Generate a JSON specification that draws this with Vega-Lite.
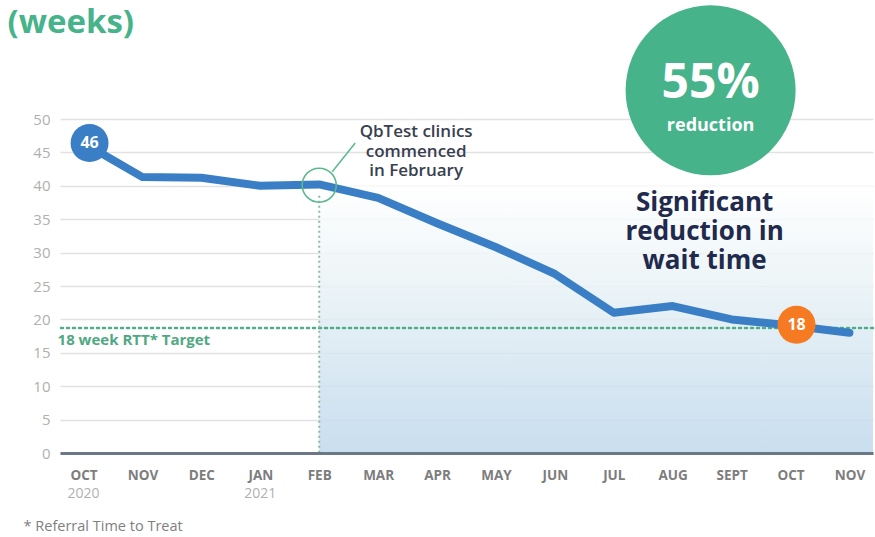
{
  "$schema": "https://vega.github.io/schema/vega-lite/v6.json",
  "width": 813,
  "height": 334,
  "autosize": {"type": "none"},
  "padding": {"left": 60, "top": 119, "right": 2, "bottom": 84},
  "background": "white",
  "config": {
    "view": {"stroke": null},
    "font": "Open Sans",
    "axisX": {"title": null, "domainColor": "#6b7785", "domainWidth": 3, "ticks": false, "grid": false, "labelAngle": 0, "labelColor": "#7d7d7d", "labelFontSize": 13.5, "labelFontWeight": "bold", "labelPadding": 15, "labelExpr": "split(datum.value, ' ')[0]"},
    "axisY": {"title": null, "domain": false, "ticks": false, "grid": true, "gridColor": "#e2e2e2", "gridWidth": 1.5, "labelColor": "#b0b0b0", "labelFontSize": 15, "labelPadding": 10, "values": [0, 5, 10, 15, 20, 25, 30, 35, 40, 45, 50]}
  },
  "datasets": {
    "wait": [
      {"month": "OCT 2020", "weeks": 46.4},
      {"month": "NOV 2020", "weeks": 41.3},
      {"month": "DEC 2020", "weeks": 41.2},
      {"month": "JAN 2021", "weeks": 40.0},
      {"month": "FEB 2021", "weeks": 40.2},
      {"month": "MAR 2021", "weeks": 38.2},
      {"month": "APR 2021", "weeks": 34.4},
      {"month": "MAY 2021", "weeks": 30.8},
      {"month": "JUN 2021", "weeks": 26.8},
      {"month": "JUL 2021", "weeks": 21.0},
      {"month": "AUG 2021", "weeks": 22.0},
      {"month": "SEPT 2021", "weeks": 20.0},
      {"month": "OCT 2021", "weeks": 19.1},
      {"month": "NOV 2021", "weeks": 18.0}
    ]
  },
  "layer": [
    {
      "data": {"values": [{"month": "FEB 2021", "weeks": 40}]},
      "mark": {"type": "rect", "opacity": 0.85, "color": {"gradient": "linear", "x1": 0, "y1": 0, "x2": 0, "y2": 1, "stops": [{"offset": 0, "color": "#ffffff"}, {"offset": 0.35, "color": "#eaf3f6"}, {"offset": 1, "color": "#bfd8ec"}]}},
      "encoding": {
        "x": {"field": "month", "type": "ordinal", "sort": null, "scale": {"type": "point", "padding": 0.4, "domain": ["OCT 2020", "NOV 2020", "DEC 2020", "JAN 2021", "FEB 2021", "MAR 2021", "APR 2021", "MAY 2021", "JUN 2021", "JUL 2021", "AUG 2021", "SEPT 2021", "OCT 2021", "NOV 2021"]}},
        "x2": {"value": "width"},
        "y": {"field": "weeks", "type": "quantitative", "scale": {"domain": [0, 50], "nice": false}},
        "y2": {"datum": 0}
      }
    },
    {
      "data": {"values": [{"weeks": 18.7}]},
      "mark": {"type": "rule", "color": "#4fae86", "strokeDash": [2, 4], "strokeWidth": 2.5, "strokeCap": "round"},
      "encoding": {"y": {"field": "weeks", "type": "quantitative", "scale": {"domain": [0, 50], "nice": false}}}
    },
    {
      "data": {"values": [{"month": "FEB 2021", "weeks": 38.5}]},
      "mark": {"type": "rule", "color": "#8cbba8", "strokeDash": [2, 3], "strokeWidth": 2},
      "encoding": {
        "x": {"field": "month", "type": "ordinal", "sort": null, "scale": {"type": "point", "padding": 0.4, "domain": ["OCT 2020", "NOV 2020", "DEC 2020", "JAN 2021", "FEB 2021", "MAR 2021", "APR 2021", "MAY 2021", "JUN 2021", "JUL 2021", "AUG 2021", "SEPT 2021", "OCT 2021", "NOV 2021"]}},
        "y": {"field": "weeks", "type": "quantitative", "scale": {"domain": [0, 50], "nice": false}},
        "y2": {"datum": 0}
      }
    },
    {
      "data": {"values": [{"month": "OCT 2020", "weeks": 16.9, "label": "18 week RTT* Target"}]},
      "mark": {"type": "text", "align": "left", "baseline": "middle", "dx": -26, "fontSize": 15, "fontWeight": "bold", "color": "#4fa882"},
      "encoding": {
        "x": {"field": "month", "type": "ordinal", "sort": null, "scale": {"type": "point", "padding": 0.4, "domain": ["OCT 2020", "NOV 2020", "DEC 2020", "JAN 2021", "FEB 2021", "MAR 2021", "APR 2021", "MAY 2021", "JUN 2021", "JUL 2021", "AUG 2021", "SEPT 2021", "OCT 2021", "NOV 2021"]}},
        "y": {"field": "weeks", "type": "quantitative", "scale": {"domain": [0, 50], "nice": false}},
        "text": {"field": "label"}
      }
    },
    {
      "data": {"name": "wait"},
      "mark": {"type": "line", "color": "#3a7fc5", "strokeWidth": 8, "strokeCap": "round", "strokeJoin": "round"},
      "encoding": {
        "x": {"field": "month", "type": "ordinal", "sort": null, "scale": {"type": "point", "padding": 0.4, "domain": ["OCT 2020", "NOV 2020", "DEC 2020", "JAN 2021", "FEB 2021", "MAR 2021", "APR 2021", "MAY 2021", "JUN 2021", "JUL 2021", "AUG 2021", "SEPT 2021", "OCT 2021", "NOV 2021"]}},
        "y": {"field": "weeks", "type": "quantitative", "scale": {"domain": [0, 50], "nice": false}}
      }
    },
    {
      "data": {"values": [{"month": "FEB 2021", "weeks": 40.1}]},
      "mark": {"type": "point", "shape": "circle", "size": 1156, "filled": false, "stroke": "#5cb88f", "strokeWidth": 1.5, "opacity": 1},
      "encoding": {
        "x": {"field": "month", "type": "ordinal", "sort": null, "scale": {"type": "point", "padding": 0.4, "domain": ["OCT 2020", "NOV 2020", "DEC 2020", "JAN 2021", "FEB 2021", "MAR 2021", "APR 2021", "MAY 2021", "JUN 2021", "JUL 2021", "AUG 2021", "SEPT 2021", "OCT 2021", "NOV 2021"]}},
        "y": {"field": "weeks", "type": "quantitative", "scale": {"domain": [0, 50], "nice": false}}
      }
    },
    {
      "data": {"values": [{"month": "FEB 2021", "y1": 42.1, "y2": 46.4}]},
      "mark": {"type": "rule", "color": "#5cb88f", "strokeWidth": 1.5, "xOffset": 13, "x2Offset": 36},
      "encoding": {
        "x": {"field": "month", "type": "ordinal", "sort": null, "scale": {"type": "point", "padding": 0.4, "domain": ["OCT 2020", "NOV 2020", "DEC 2020", "JAN 2021", "FEB 2021", "MAR 2021", "APR 2021", "MAY 2021", "JUN 2021", "JUL 2021", "AUG 2021", "SEPT 2021", "OCT 2021", "NOV 2021"]}},
        "x2": {"field": "month"},
        "y": {"field": "y1", "type": "quantitative", "scale": {"domain": [0, 50], "nice": false}},
        "y2": {"field": "y2"}
      }
    },
    {
      "data": {"values": [{"month": "MAR 2021", "weeks": 48.0}]},
      "mark": {"type": "text", "align": "center", "baseline": "middle", "dx": 38, "fontSize": 17, "fontWeight": 600, "color": "#384050", "lineHeight": 19.5, "text": ["QbTest clinics", "commenced", "in February"]},
      "encoding": {
        "x": {"field": "month", "type": "ordinal", "sort": null, "scale": {"type": "point", "padding": 0.4, "domain": ["OCT 2020", "NOV 2020", "DEC 2020", "JAN 2021", "FEB 2021", "MAR 2021", "APR 2021", "MAY 2021", "JUN 2021", "JUL 2021", "AUG 2021", "SEPT 2021", "OCT 2021", "NOV 2021"]}},
        "y": {"field": "weeks", "type": "quantitative", "scale": {"domain": [0, 50], "nice": false}}
      }
    },
    {
      "data": {"values": [{"month": "OCT 2020", "weeks": 46.4, "label": "46", "c": "#3a7fc5"}, {"month": "OCT 2021", "weeks": 19.2, "label": "18", "c": "#f57a21"}]},
      "layer": [
        {
          "mark": {"type": "point", "shape": "circle", "size": 1444, "filled": true, "opacity": 1, "xOffset": 6},
          "encoding": {
            "x": {"field": "month", "type": "ordinal", "sort": null, "scale": {"type": "point", "padding": 0.4, "domain": ["OCT 2020", "NOV 2020", "DEC 2020", "JAN 2021", "FEB 2021", "MAR 2021", "APR 2021", "MAY 2021", "JUN 2021", "JUL 2021", "AUG 2021", "SEPT 2021", "OCT 2021", "NOV 2021"]}},
            "y": {"field": "weeks", "type": "quantitative", "scale": {"domain": [0, 50], "nice": false}},
            "color": {"field": "c", "type": "nominal", "scale": null}
          }
        },
        {
          "mark": {"type": "text", "align": "center", "baseline": "middle", "dx": 6, "fontSize": 16, "fontWeight": "bold", "color": "white"},
          "encoding": {
            "x": {"field": "month", "type": "ordinal", "sort": null, "scale": {"type": "point", "padding": 0.4, "domain": ["OCT 2020", "NOV 2020", "DEC 2020", "JAN 2021", "FEB 2021", "MAR 2021", "APR 2021", "MAY 2021", "JUN 2021", "JUL 2021", "AUG 2021", "SEPT 2021", "OCT 2021", "NOV 2021"]}},
            "y": {"field": "weeks", "type": "quantitative", "scale": {"domain": [0, 50], "nice": false}},
            "text": {"field": "label"}
          }
        }
      ]
    },
    {
      "data": {"values": [{"month": "SEPT 2021", "weeks": 54.3}]},
      "mark": {"type": "point", "shape": "circle", "size": 28900, "filled": true, "color": "#46b38a", "opacity": 1, "xOffset": -21},
      "encoding": {
        "x": {"field": "month", "type": "ordinal", "sort": null, "scale": {"type": "point", "padding": 0.4, "domain": ["OCT 2020", "NOV 2020", "DEC 2020", "JAN 2021", "FEB 2021", "MAR 2021", "APR 2021", "MAY 2021", "JUN 2021", "JUL 2021", "AUG 2021", "SEPT 2021", "OCT 2021", "NOV 2021"]}},
        "y": {"field": "weeks", "type": "quantitative", "scale": {"domain": [0, 50], "nice": false}}
      }
    },
    {
      "data": {"values": [{"month": "SEPT 2021", "weeks": 55.2, "label": "55%", "size": 48}, {"month": "SEPT 2021", "weeks": 49.0, "label": "reduction", "size": 18}]},
      "mark": {"type": "text", "align": "center", "baseline": "middle", "dx": -21, "fontWeight": "bold", "color": "white"},
      "encoding": {
        "x": {"field": "month", "type": "ordinal", "sort": null, "scale": {"type": "point", "padding": 0.4, "domain": ["OCT 2020", "NOV 2020", "DEC 2020", "JAN 2021", "FEB 2021", "MAR 2021", "APR 2021", "MAY 2021", "JUN 2021", "JUL 2021", "AUG 2021", "SEPT 2021", "OCT 2021", "NOV 2021"]}},
        "y": {"field": "weeks", "type": "quantitative", "scale": {"domain": [0, 50], "nice": false}},
        "text": {"field": "label"},
        "size": {"field": "size", "type": "quantitative", "scale": null}
      }
    },
    {
      "data": {"values": [{"month": "SEPT 2021", "weeks": 37.4}]},
      "mark": {"type": "text", "align": "center", "baseline": "middle", "dx": -27, "fontSize": 26, "fontWeight": "bold", "color": "#1f2a4d", "lineHeight": 29, "text": ["Significant", "reduction in", "wait time"]},
      "encoding": {
        "x": {"field": "month", "type": "ordinal", "sort": null, "scale": {"type": "point", "padding": 0.4, "domain": ["OCT 2020", "NOV 2020", "DEC 2020", "JAN 2021", "FEB 2021", "MAR 2021", "APR 2021", "MAY 2021", "JUN 2021", "JUL 2021", "AUG 2021", "SEPT 2021", "OCT 2021", "NOV 2021"]}},
        "y": {"field": "weeks", "type": "quantitative", "scale": {"domain": [0, 50], "nice": false}}
      }
    },
    {
      "data": {"values": [{"month": "OCT 2020", "weeks": 62.9, "label": "(weeks)"}]},
      "mark": {"type": "text", "align": "left", "baseline": "alphabetic", "dx": -76, "fontSize": 33, "fontWeight": "bold", "color": "#47b38a"},
      "encoding": {
        "x": {"field": "month", "type": "ordinal", "sort": null, "scale": {"type": "point", "padding": 0.4, "domain": ["OCT 2020", "NOV 2020", "DEC 2020", "JAN 2021", "FEB 2021", "MAR 2021", "APR 2021", "MAY 2021", "JUN 2021", "JUL 2021", "AUG 2021", "SEPT 2021", "OCT 2021", "NOV 2021"]}},
        "y": {"field": "weeks", "type": "quantitative", "scale": {"domain": [0, 50], "nice": false}},
        "text": {"field": "label"}
      }
    },
    {
      "data": {"values": [{"month": "OCT 2020", "weeks": -6.1, "label": "2020"}, {"month": "JAN 2021", "weeks": -6.1, "label": "2021"}]},
      "mark": {"type": "text", "align": "center", "baseline": "middle", "fontSize": 14, "color": "#b0b0b0"},
      "encoding": {
        "x": {"field": "month", "type": "ordinal", "sort": null, "scale": {"type": "point", "padding": 0.4, "domain": ["OCT 2020", "NOV 2020", "DEC 2020", "JAN 2021", "FEB 2021", "MAR 2021", "APR 2021", "MAY 2021", "JUN 2021", "JUL 2021", "AUG 2021", "SEPT 2021", "OCT 2021", "NOV 2021"]}},
        "y": {"field": "weeks", "type": "quantitative", "scale": {"domain": [0, 50], "nice": false}},
        "text": {"field": "label"}
      }
    },
    {
      "data": {"values": [{"month": "OCT 2020", "weeks": -11.1, "label": "* Referral Time to Treat"}]},
      "mark": {"type": "text", "align": "left", "baseline": "middle", "dx": -60, "fontSize": 14.5, "color": "#808080"},
      "encoding": {
        "x": {"field": "month", "type": "ordinal", "sort": null, "scale": {"type": "point", "padding": 0.4, "domain": ["OCT 2020", "NOV 2020", "DEC 2020", "JAN 2021", "FEB 2021", "MAR 2021", "APR 2021", "MAY 2021", "JUN 2021", "JUL 2021", "AUG 2021", "SEPT 2021", "OCT 2021", "NOV 2021"]}},
        "y": {"field": "weeks", "type": "quantitative", "scale": {"domain": [0, 50], "nice": false}},
        "text": {"field": "label"}
      }
    }
  ]
}
